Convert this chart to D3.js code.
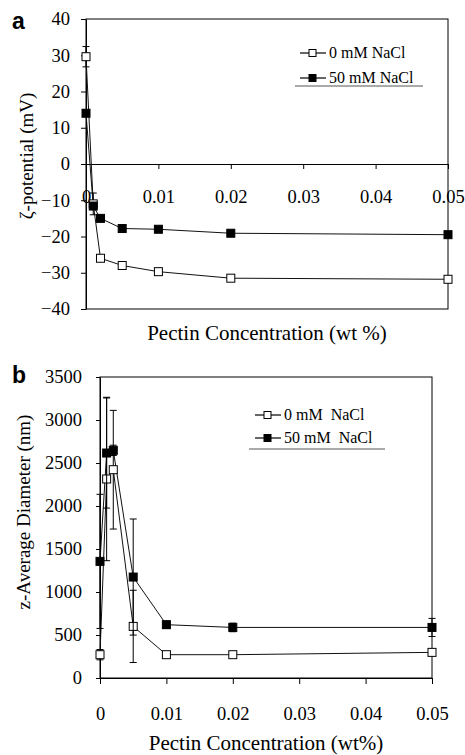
<!DOCTYPE html>
<html>
<head>
<meta charset="utf-8">
<script src="https://cdn.jsdelivr.net/npm/d3@7"></script>
<style>
  body { margin: 0; background: #fff; }
  svg { display: block; }
  svg text { font-family: "Liberation Serif", "Times New Roman", Times, serif; fill: #000; }
</style>
</head>
<body>
<div id="chart"></div>
<script>
// Pectin concentration (wt %)
const conc = [0, 0.001, 0.002, 0.005, 0.01, 0.02, 0.05];
const xTicks = [0, 0.01, 0.02, 0.03, 0.04, 0.05];

// panel a: zeta potential (mV)
const zeta0 = [29.6, -11.0, -26.0, -28.0, -29.7, -31.5, -31.8];
const zeta0Err = [2.8, 3.0, 0.6, 0.5, 0.5, 0.5, 0.5];
const zeta50 = [14.0, -11.6, -15.0, -17.8, -18.0, -19.1, -19.5];
const zeta50Err = [0.8, 0.8, 0.6, 0.5, 0.5, 0.5, 0.5];
const zetaTicks = [-40, -30, -20, -10, 0, 10, 20, 30, 40];

// panel b: z-average diameter (nm)
const diam0 = [271, 2314, 2422, 600, 271, 271, 298];
const diam0Err = [60, 950, 690, 420, 30, 30, 30];
const diam50 = [1356, 2616, 2647, 1174, 620, 588, 588];
const diam50Err = [780, 640, 60, 675, 40, 50, 105];
const diamTicks = [0, 500, 1000, 1500, 2000, 2500, 3000, 3500];

const seriesNames = ["0 mM NaCl", "50 mM NaCl"];
const seriesNamesB = ["0 mM\u00a0 NaCl", "50 mM\u00a0 NaCl"];

const serif = "'Liberation Serif', 'Times New Roman', Times, serif";

const svg = d3.select("#chart").append("svg")
    .attr("width", 465)
    .attr("height", 755)
    .attr("font-family", serif);

function drawPanel(opt) {
    const x = d3.scaleLinear().domain([0, 0.05]).range([opt.left, opt.right]);
    const y = d3.scaleLinear().domain(opt.yDomain).range([opt.bottom, opt.top]);

    // frame
    svg.append("rect")
        .attr("x", opt.left).attr("y", opt.top)
        .attr("width", opt.right - opt.left).attr("height", opt.bottom - opt.top)
        .attr("fill", "none").attr("stroke", "#000").attr("stroke-width", 1);

    // y axis
    const yAxis = svg.append("g")
        .attr("transform", `translate(${opt.left},0)`)
        .call(d3.axisLeft(y).tickValues(opt.yTicks).tickFormat(d3.format("d"))
            .tickSize(opt.yTickSize).tickSizeOuter(0).tickPadding(opt.yPad));
    yAxis.attr("font-family", serif).attr("font-size", "18.5px");
    yAxis.selectAll("text").attr("font-family", serif);

    // x axis
    const xAxis = svg.append("g")
        .attr("transform", `translate(0,${y(opt.xAxisAt)})`)
        .call(d3.axisBottom(x).tickValues(xTicks).tickFormat(d => d === 0 ? "0" : d3.format(".2f")(d))
            .tickSize(opt.xTickSize).tickSizeOuter(0).tickPadding(opt.xPad));
    xAxis.attr("font-family", serif).attr("font-size", "18.5px");
    xAxis.selectAll("text").attr("font-family", serif);

    // titles
    svg.append("text")
        .attr("x", opt.xTitle[0]).attr("y", opt.xTitle[1])
        .attr("text-anchor", "middle").attr("font-size", "21px")
        .text(opt.xLabel);
    svg.append("text")
        .attr("transform", `translate(${opt.yTitle[0]},${opt.yTitle[1]}) rotate(-90)`)
        .attr("text-anchor", "middle").attr("font-size", "19px")
        .text(opt.yLabel);

    // panel letter
    svg.append("text")
        .attr("x", 12).attr("y", opt.letterY)
        .style("font-family", "'Liberation Sans', Arial, sans-serif")
        .attr("font-weight", "bold").attr("font-size", "23px")
        .text(opt.letter);

    const line = d3.line().x((d, i) => x(conc[i])).y(d => y(d));

    opt.series.forEach(s => {
        svg.append("path")
            .datum(s.values)
            .attr("fill", "none")
            .attr("stroke", "#111")
            .attr("stroke-width", 1)
            .attr("d", line);
    });

    opt.series.forEach(s => {
        const g = svg.append("g");
        s.values.forEach((v, i) => {
            const cx = x(conc[i]);
            const e = s.err[i];
            g.append("line")
                .attr("x1", cx).attr("x2", cx)
                .attr("y1", y(v - e)).attr("y2", y(v + e))
                .attr("stroke", "#000").attr("stroke-width", 1);
            [v - e, v + e].forEach(c => {
                g.append("line")
                    .attr("x1", cx - 3.5).attr("x2", cx + 3.5)
                    .attr("y1", y(c)).attr("y2", y(c))
                    .attr("stroke", "#000").attr("stroke-width", 1);
            });
        });
        g.selectAll("rect.m")
            .data(s.values)
            .join("rect")
            .attr("x", (d, i) => x(conc[i]) - 4)
            .attr("y", d => y(d) - 4)
            .attr("width", 8).attr("height", 8)
            .attr("fill", s.fill)
            .attr("stroke", "#000").attr("stroke-width", 1);
    });

    // legend
    const lg = svg.append("g");
    opt.series.forEach((s, i) => {
        const ly = opt.legend.y + i * opt.legend.dy;
        lg.append("line")
            .attr("x1", opt.legend.x).attr("x2", opt.legend.x + 26)
            .attr("y1", ly).attr("y2", ly)
            .attr("stroke", "#000").attr("stroke-width", 1.2);
        lg.append("rect")
            .attr("x", opt.legend.x + 9).attr("y", ly - 3.5)
            .attr("width", 7).attr("height", 7)
            .attr("fill", s.fill).attr("stroke", "#000");
        lg.append("text")
            .attr("x", opt.legend.x + 29).attr("y", ly)
            .attr("dy", "0.33em")
            .attr("font-size", "16px")
            .text(s.name);
    });
    lg.append("line")
        .attr("x1", opt.legend.ulx[0]).attr("x2", opt.legend.ulx[1])
        .attr("y1", opt.legend.uly).attr("y2", opt.legend.uly)
        .attr("stroke", "#555").attr("stroke-width", 1);
}

drawPanel({
    letter: "a", letterY: 29,
    left: 86, right: 448, top: 19, bottom: 309,
    yDomain: [-40, 40], yTicks: zetaTicks, yTickSize: 5, yPad: 11,
    xAxisAt: 0, xTickSize: 5, xPad: 21,
    xLabel: "Pectin Concentration (wt %)", xTitle: [267, 340],
    yLabel: "\u03b6-potential (mV)", yTitle: [33, 156],
    series: [
        { name: seriesNames[0], values: zeta0, err: zeta0Err, fill: "#fff" },
        { name: seriesNames[1], values: zeta50, err: zeta50Err, fill: "#000" }
    ],
    legend: { x: 300, y: 53, dy: 25, ulx: [295, 423], uly: 86 }
});

drawPanel({
    letter: "b", letterY: 383,
    left: 100, right: 432, top: 377, bottom: 678,
    yDomain: [0, 3500], yTicks: diamTicks, yTickSize: 4, yPad: 14,
    xAxisAt: 0, xTickSize: 6, xPad: 23,
    xLabel: "Pectin Concentration (wt%)", xTitle: [266, 750],
    yLabel: "z-Average Diameter (nm)", yTitle: [30, 512],
    series: [
        { name: seriesNamesB[0], values: diam0, err: diam0Err, fill: "#fff" },
        { name: seriesNamesB[1], values: diam50, err: diam50Err, fill: "#000" }
    ],
    legend: { x: 255, y: 415, dy: 23, ulx: [249, 385], uly: 449 }
});
</script>
</body>
</html>
